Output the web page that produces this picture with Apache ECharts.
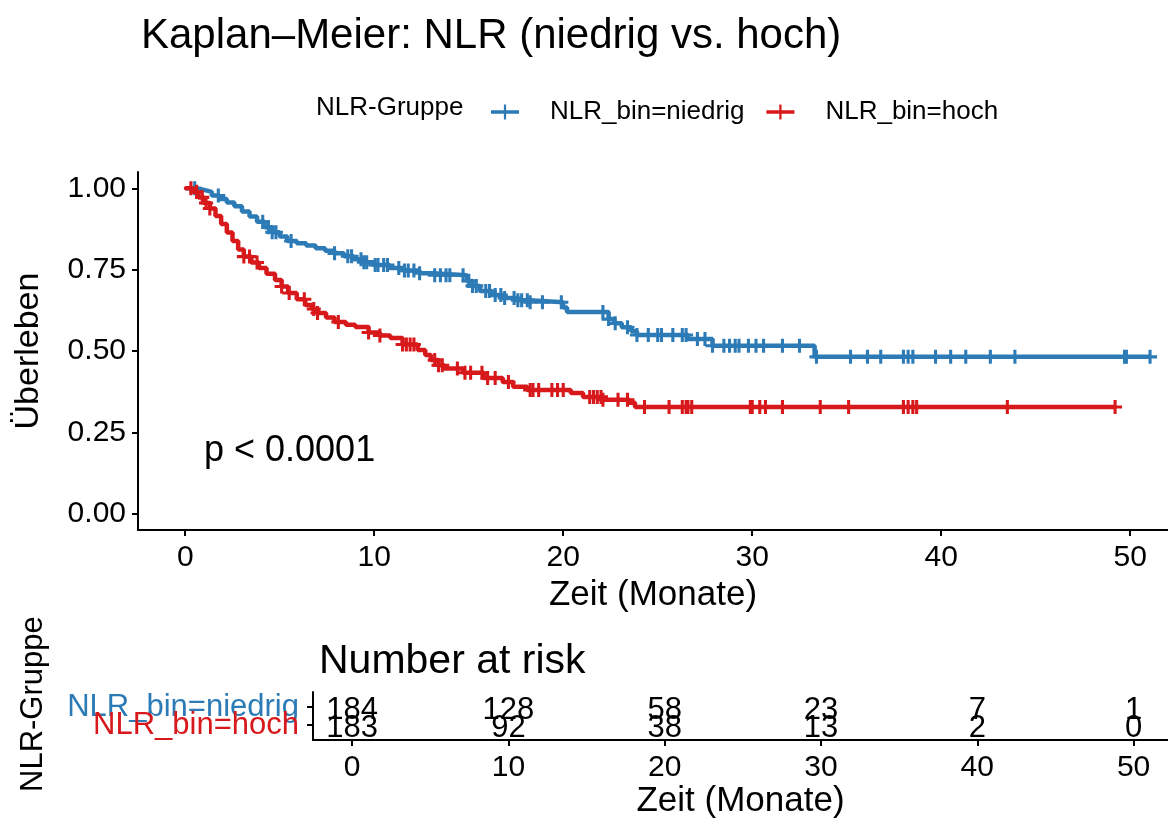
<!DOCTYPE html>
<html>
<head>
<meta charset="utf-8">
<script src="https://cdn.jsdelivr.net/npm/echarts@6/dist/echarts.min.js"></script>
<style>html,body{margin:0;padding:0;background:#fff}#c{width:1168px;height:821px}</style>
</head>
<body>
<div id="c"></div>
<script>
// ---- data ----
const groupNames = ['NLR_bin=niedrig', 'NLR_bin=hoch'];
const colors = ['#2C7BB6', '#D7191C'];

// step function: survival after each event time
const blueTimes = [0,0.6,1.0,1.4,1.8,2.2,2.6,3.0,3.4,3.8,4.2,4.6,5.0,5.4,5.9,6.4,6.9,7.4,7.9,8.4,8.9,9.4,10.0,10.8,11.6,12.4,13.1,14.9,15.2,15.6,16.2,16.8,17.5,18.2,20.0,20.2,22.4,22.7,23.1,23.6,23.9,26.6,27.9,33.3];
const blueSurv  = [1.000,0.995,0.989,0.978,0.967,0.956,0.945,0.929,0.913,0.897,0.880,0.865,0.852,0.838,0.831,0.824,0.816,0.808,0.800,0.791,0.782,0.773,0.764,0.755,0.747,0.739,0.733,0.715,0.700,0.684,0.672,0.663,0.656,0.650,0.634,0.620,0.598,0.585,0.573,0.561,0.549,0.537,0.516,0.482];
const blueEnd = 51.05;
const blueCensor = [0.5,1.75,4.1,4.4,4.6,4.8,5.6,7.9,8.6,8.8,9.3,9.45,9.6,10.05,10.2,10.5,10.7,11.3,11.6,11.8,12.1,12.4,13.2,13.5,13.8,14.0,14.7,15.0,15.2,15.4,15.9,16.1,16.4,16.7,16.9,17.4,17.6,17.8,18.1,18.25,18.9,19.9,22.1,22.4,22.75,23.4,23.9,24.5,25.0,25.2,25.8,26.3,26.5,27.1,27.5,27.9,28.5,28.8,29.1,29.3,29.8,30.2,30.6,31.6,32.5,33.4,35.2,36.1,36.8,38.0,38.25,38.5,39.7,40.5,41.3,42.6,43.9,49.7,49.8,51.05];

const redTimes = [0,0.4,0.7,1.0,1.3,1.6,1.9,2.2,2.5,2.8,3.1,3.5,3.9,4.3,4.75,5.1,5.45,5.9,6.35,6.7,7.0,7.45,7.9,8.5,9.0,9.7,10.3,10.85,11.5,12.3,12.7,13.0,13.4,13.7,14.7,15.8,16.8,17.35,18.1,20.4,21.05,22.1,23.5,23.8];
const redSurv  = [1.000,0.989,0.972,0.955,0.938,0.915,0.890,0.864,0.838,0.812,0.790,0.772,0.755,0.737,0.718,0.698,0.678,0.659,0.641,0.629,0.617,0.603,0.589,0.581,0.574,0.557,0.548,0.540,0.520,0.503,0.488,0.472,0.456,0.446,0.433,0.417,0.405,0.390,0.380,0.371,0.359,0.350,0.341,0.328];
const redEnd = 49.2;
const redCensor = [0.3,0.6,0.9,1.1,1.3,3.1,3.4,3.8,5.1,5.5,6.3,6.8,7.0,8.1,9.7,10.3,11.5,11.7,11.9,12.1,13.2,13.4,13.6,14.4,14.8,15.1,15.7,16.0,16.4,17.1,18.25,18.4,18.7,19.4,19.7,20.0,21.4,21.6,21.8,22.0,22.1,22.9,23.4,24.3,25.6,26.3,26.5,26.6,26.8,29.9,30.0,30.4,30.7,31.6,33.6,35.1,38.0,38.25,38.5,38.7,43.5,49.2];

const xTicks = [0,10,20,30,40,50];
const yTicks = [0,0.25,0.5,0.75,1.0];
const riskTimes = [0,10,20,30,40,50];
const riskNiedrig = [184,128,58,23,7,1];
const riskHoch = [183,92,38,13,2,0];

// ---- helpers ----
function stepData(times, surv, end){
  const d = times.map((t,i)=>[t, surv[i]]);
  d.push([end, surv[surv.length-1]]);
  return d;
}
function survAt(times, surv, t){
  let s = surv[0];
  for (let i=0;i<times.length;i++){ if (times[i] <= t) s = surv[i]; }
  return s;
}
const plus = 'path://M3.9,0H6.1V3.9H10V6.1H6.1V10H3.9V6.1H0V3.9H3.9Z';
const legendIcon = 'path://M0,6.2H30V9.8H0Z M13.8,0H16.2V16H13.8Z';
const FF = '"Liberation Sans", Arial, sans-serif';

const chart = echarts.init(document.getElementById('c'), null, {renderer:'canvas'});
const axisLine = {show:true, onZero:false, lineStyle:{color:'#000', width:2}};
const axisTick = {show:true, inside:false, length:6, lineStyle:{color:'#000', width:2}};
const riskMin = 0.167, riskMax = 2.833;
const riskLabel = {show:true, position:'inside', offset:[0,3], formatter:p=>String(p.value[2]), fontSize:31, color:'#000', opacity:1, fontFamily:FF};

chart.setOption({
  animation:false,
  backgroundColor:'#fff',
  textStyle:{fontFamily:FF},
  title:[
    {text:'Kaplan–Meier: NLR (niedrig vs. hoch)', left:136, top:10, textStyle:{fontSize:42, fontWeight:'normal', color:'#000', fontFamily:FF}},
    {text:'Number at risk', left:314, top:636, textStyle:{fontSize:41, fontWeight:'normal', color:'#000', fontFamily:FF}}
  ],
  legend:{
    data:groupNames.map(n=>({name:n, icon:legendIcon})), left:486, top:94, itemWidth:28, itemHeight:16, itemGap:22,
    textStyle:{fontSize:26, color:'#000', fontFamily:FF, padding:[0,0,0,26]},
    selectedMode:false
  },
  graphic:[
    {type:'text', left:316, top:95, style:{text:'NLR-Gruppe', fontSize:26, fill:'#000', fontFamily:FF}},
    {type:'text', left:204, top:433, style:{text:'p < 0.0001', fontSize:36, fill:'#000', fontFamily:FF}},
    {type:'text', x:33, y:792, rotation:Math.PI/2, style:{text:'NLR-Gruppe', fontSize:31, fill:'#000', fontFamily:FF, align:'left', verticalAlign:'middle'}}
  ],
  grid:[
    {left:138, right:0, top:172, bottom:291},
    {left:313, right:0, top:692, bottom:81}
  ],
  xAxis:[
    {gridIndex:0, type:'value', min:-2.5, max:52, axisLine, axisTick:Object.assign({customValues:xTicks},axisTick),
     splitLine:{show:false}, axisLabel:{customValues:xTicks, fontSize:30, color:'#000', margin:13, fontFamily:FF},
     name:'Zeit (Monate)', nameLocation:'middle', nameGap:48, nameTextStyle:{fontSize:35, color:'#000', fontFamily:FF}},
    {gridIndex:1, type:'value', min:-2.5, max:52.2, axisLine, axisTick:Object.assign({customValues:xTicks},axisTick),
     splitLine:{show:false}, axisLabel:{customValues:xTicks, fontSize:30, color:'#000', margin:13, fontFamily:FF},
     name:'Zeit (Monate)', nameLocation:'middle', nameGap:44, nameTextStyle:{fontSize:35, color:'#000', fontFamily:FF}}
  ],
  yAxis:[
    {gridIndex:0, type:'value', min:-0.05, max:1.05, axisLine, axisTick:Object.assign({customValues:yTicks},axisTick),
     splitLine:{show:false}, axisLabel:{customValues:yTicks, fontSize:30, color:'#000', margin:12, fontFamily:FF, formatter:v=>v.toFixed(2)},
     name:'Überleben', nameLocation:'middle', nameGap:92, nameTextStyle:{fontSize:34, color:'#000', fontFamily:FF}},
    {gridIndex:1, type:'value', min:riskMin, max:riskMax, axisLine, axisTick:Object.assign({customValues:[2]},axisTick),
     splitLine:{show:false},
     axisLabel:{customValues:[2], hideOverlap:false, fontSize:31, margin:14, color:colors[0], fontFamily:FF, formatter:()=>groupNames[0]}},
    {gridIndex:1, type:'value', position:'left', offset:0, min:riskMin, max:riskMax, axisLine:{show:false, onZero:false},
     axisTick:Object.assign({customValues:[1]},axisTick),
     splitLine:{show:false},
     axisLabel:{customValues:[1], hideOverlap:false, fontSize:31, margin:14, color:colors[1], fontFamily:FF, formatter:()=>groupNames[1]}}
  ],
  series:[
    {name:groupNames[0], type:'line', step:'end', xAxisIndex:0, yAxisIndex:0, data:stepData(blueTimes,blueSurv,blueEnd),
     showSymbol:false, lineStyle:{color:colors[0], width:4.5}, itemStyle:{color:colors[0]}, z:2},
    {name:groupNames[0], type:'scatter', xAxisIndex:0, yAxisIndex:0, symbol:plus, symbolSize:14,
     data:blueCensor.map(t=>[t, survAt(blueTimes,blueSurv,t)]), itemStyle:{color:colors[0], opacity:1}, z:3},
    {name:groupNames[1], type:'line', step:'end', xAxisIndex:0, yAxisIndex:0, data:stepData(redTimes,redSurv,redEnd),
     showSymbol:false, lineStyle:{color:colors[1], width:4.5}, itemStyle:{color:colors[1]}, z:4},
    {name:groupNames[1], type:'scatter', xAxisIndex:0, yAxisIndex:0, symbol:plus, symbolSize:14,
     data:redCensor.map(t=>[t, survAt(redTimes,redSurv,t)]), itemStyle:{color:colors[1], opacity:1}, z:5},
    {type:'scatter', xAxisIndex:1, yAxisIndex:1, symbolSize:1, itemStyle:{color:'rgba(0,0,0,0)', opacity:1},
     data:riskTimes.map((t,i)=>[t,2,riskNiedrig[i]]), label:riskLabel, z:6},
    {type:'scatter', xAxisIndex:1, yAxisIndex:1, symbolSize:1, itemStyle:{color:'rgba(0,0,0,0)', opacity:1},
     data:riskTimes.map((t,i)=>[t,1,riskHoch[i]]), label:riskLabel, z:6}
  ]
});
</script>
</body>
</html>
